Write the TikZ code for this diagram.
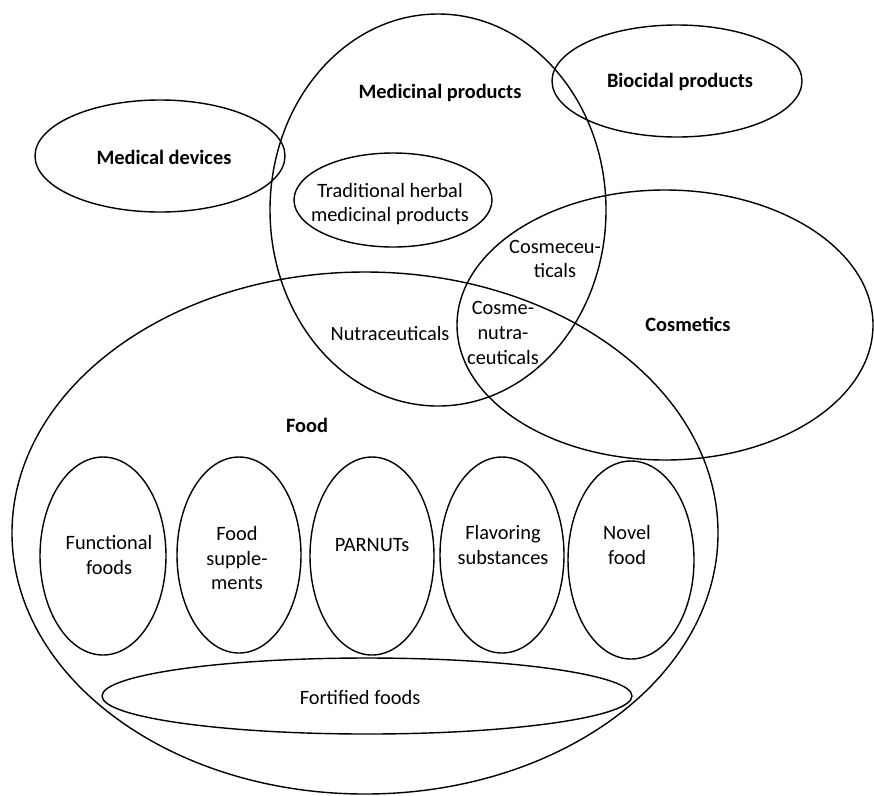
\documentclass[tikz,border=0pt]{standalone}
\usepackage{fontspec}
\setmainfont{Carlito}

\begin{document}
\begin{tikzpicture}[x=0.02cm, y=-0.02cm,
      ensemble/.style={draw=black, line width=0.8pt},
      titre/.style={font=\bfseries\fontsize{11.6}{14}\selectfont,
                    align=center, inner sep=1pt},
      etiq/.style={font=\fontsize{11.6}{14}\selectfont, align=center,
                   inner sep=1pt}]
    \useasboundingbox (0,0) rectangle (874,795);
    \draw[ensemble] (365,533) ellipse [x radius=353, y radius=261];
    \draw[ensemble] (438,210) ellipse [x radius=168, y radius=196];
    \draw[ensemble] (160,156) ellipse [x radius=125, y radius=56];
    \draw[ensemble] (677,81)  ellipse [x radius=125, y radius=56];
    \draw[ensemble] (393,200) ellipse [x radius=99,  y radius=47];
    \draw[ensemble] (665,325) ellipse [x radius=208, y radius=135];
    \draw[ensemble] (103,556) ellipse [x radius=63,  y radius=99];
    \draw[ensemble] (239,555) ellipse [x radius=62,  y radius=98];
    \draw[ensemble] (372,556) ellipse [x radius=62,  y radius=99];
    \draw[ensemble] (502,555) ellipse [x radius=62,  y radius=98];
    \draw[ensemble] (631,560) ellipse [x radius=63,  y radius=99];
    \draw[ensemble] (367,696) ellipse [x radius=265, y radius=38];
    \node[titre] (medic)  at (440,93)  {Medicinal products};
    \node[titre] (disp)   at (164,157) {Medical devices};
    \node[titre] (bioc)   at (680,82)  {Biocidal products};
    \node[titre] (cosm)   at (688,324) {Cosmetics};
    \node[titre] (food)   at (307,425) {Food};
    \node[etiq]  (trad)   at (390,204) {Traditional herbal\\medicinal products};
    \node[etiq]  (cosmc)  at (555,259) {Cosmeceu-\\ticals};
    \node[etiq]  (nutra)  at (390,333) {Nutraceuticals};
    \node[etiq]  (cosnut) at (503,333) {Cosme-\\nutra-\\ceuticals};
    \node[etiq]  (func)   at (109,555) {Functional\\foods};
    \node[etiq]  (suppl)  at (237,558) {Food\\supple-\\ments};
    \node[etiq]  (parnut) at (372,545) {PARNUTs};
    \node[etiq]  (flav)   at (503,545) {Flavoring\\substances};
    \node[etiq]  (novel)  at (627,545) {Novel\\food};
    \node[etiq]  (fort)   at (360,697) {Fortified foods};
  \end{tikzpicture}
\end{document}
